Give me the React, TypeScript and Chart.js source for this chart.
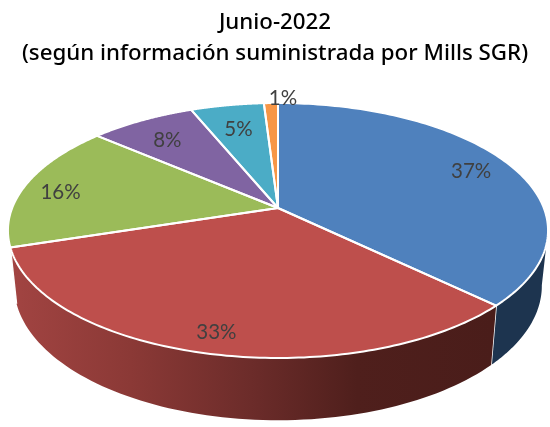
import React, { useEffect, useRef } from "react";
import { Chart, registerables } from "chart.js";

Chart.register(...registerables);

const categories = ["A", "B", "C", "D", "E", "F"];
const shares = [37.2, 32.9, 16.2, 7.5, 5.2, 1.0];
const titleLines = ["Junio-2022", "(según información suministrada por Mills SGR)"];
const faceColors = ["#4F81BD", "#BE4F4C", "#9BBB59", "#8064A2", "#4BACC6", "#F79646"];
const wallColors: (string | [number, string][])[] = [
  "#1D344F",
  [[0, "#A24442"], [0.25, "#8B3936"], [0.5, "#6C2C2A"], [0.72, "#4F1F1C"], [1, "#4A1D1A"]],
  "#5D7037", "#4D3C61", "#2D6777", "#945A2A",
];
const labelRadius = [0.835, 0.868, 0.85, 0.77, 0.75, 1.07];
const labelTurn = [0, 0, -2, -1, 0, 3];

// perspective of the tilted disc
const CX = 278, APEX_Y = 208, A = 265.8, B = 123.5, K = 0.1765;
const LOW_Y = 262, LOW_SX = 0.977, LOW_SY = 1.055;
const topPt = (a: number, r = 1) => {
  const u = r * Math.cos(a), v = r * Math.sin(a), w = 1 - K * v;
  return [CX + (A * u) / w, APEX_Y + (B * v) / w];
};
const lowPt = (a: number) => {
  const u = Math.cos(a), v = Math.sin(a), w = 1 - K * v;
  return [CX + (LOW_SX * A * u) / w, LOW_Y + (LOW_SY * B * v) / w];
};
const WALL_FROM = (10 * Math.PI) / 180;
const WALL_TO = (162.4 * Math.PI) / 180;

const discPlugin = {
  id: "disc",
  beforeDatasetsDraw(chart: any) {
    const ctx: CanvasRenderingContext2D = chart.ctx;
    const arcs = chart.getDatasetMeta(0).data;
    ctx.save();
    // side wall
    arcs.forEach((arc: any, i: number) => {
      const s = Math.max(arc.startAngle, WALL_FROM);
      const e = Math.min(arc.endAngle, WALL_TO);
      if (e <= s) return;
      const n = 80;
      ctx.beginPath();
      for (let j = 0; j <= n; j++) {
        const p = topPt(s + ((e - s) * j) / n);
        j ? ctx.lineTo(p[0], p[1]) : ctx.moveTo(p[0], p[1]);
      }
      for (let j = n; j >= 0; j--) {
        const p = lowPt(s + ((e - s) * j) / n);
        ctx.lineTo(p[0], p[1]);
      }
      ctx.closePath();
      const c = wallColors[i];
      if (typeof c === "string") ctx.fillStyle = c;
      else {
        const g = ctx.createLinearGradient(10, 0, 492, 0);
        c.forEach(([o, col]) => g.addColorStop(o, col));
        ctx.fillStyle = g;
      }
      ctx.fill();
      if (arc.endAngle < WALL_TO) {
        const t = topPt(arc.endAngle), b = lowPt(arc.endAngle);
        ctx.strokeStyle = "#fff";
        ctx.lineWidth = 1.5;
        ctx.beginPath();
        ctx.moveTo(t[0], t[1]);
        ctx.lineTo(b[0], b[1]);
        ctx.stroke();
      }
    });
    // top face
    arcs.forEach((arc: any, i: number) => {
      const n = 120;
      ctx.beginPath();
      ctx.moveTo(CX, APEX_Y);
      for (let j = 0; j <= n; j++) {
        const p = topPt(arc.startAngle + ((arc.endAngle - arc.startAngle) * j) / n);
        ctx.lineTo(p[0], p[1]);
      }
      ctx.closePath();
      ctx.fillStyle = faceColors[i];
      ctx.fill();
    });
    arcs.forEach((arc: any) => {
      const n = 120;
      ctx.beginPath();
      ctx.moveTo(CX, APEX_Y);
      for (let j = 0; j <= n; j++) {
        const p = topPt(arc.startAngle + ((arc.endAngle - arc.startAngle) * j) / n);
        ctx.lineTo(p[0], p[1]);
      }
      ctx.closePath();
      ctx.strokeStyle = "#fff";
      ctx.lineWidth = 2;
      ctx.lineJoin = "round";
      ctx.stroke();
    });
    // labels
    ctx.fillStyle = "#404040";
    ctx.font = "20.5px Lato";
    ctx.textAlign = "center";
    ctx.textBaseline = "middle";
    arcs.forEach((arc: any, i: number) => {
      const mid = (arc.startAngle + arc.endAngle) / 2 + (labelTurn[i] * Math.PI) / 180;
      const p = topPt(mid, labelRadius[i]);
      ctx.fillText(`${Math.round(shares[i])}%`, p[0], p[1] + 1.5);
    });
    ctx.restore();
    return false;
  },
};

export default function App() {
  const ref = useRef<HTMLCanvasElement>(null);
  useEffect(() => {
    document.body.style.margin = "0";
    const chart = new Chart(ref.current!, {
      type: "pie",
      data: {
        labels: categories,
        datasets: [{ data: shares, backgroundColor: faceColors }],
      },
      options: {
        responsive: false,
        animation: false,
        devicePixelRatio: 1,
        plugins: {
          legend: { display: false },
          tooltip: { enabled: false },
          title: {
            display: true,
            text: titleLines,
            color: "#000",
            font: { family: "'Noto Sans'", size: 22.3, weight: "500", lineHeight: 1.39 },
            padding: { top: 7, bottom: 10 },
          },
        },
      },
      plugins: [discPlugin],
    } as any);
    return () => chart.destroy();
  }, []);
  return <canvas ref={ref} width={550} height={427} style={{ display: "block" }} />;
}
